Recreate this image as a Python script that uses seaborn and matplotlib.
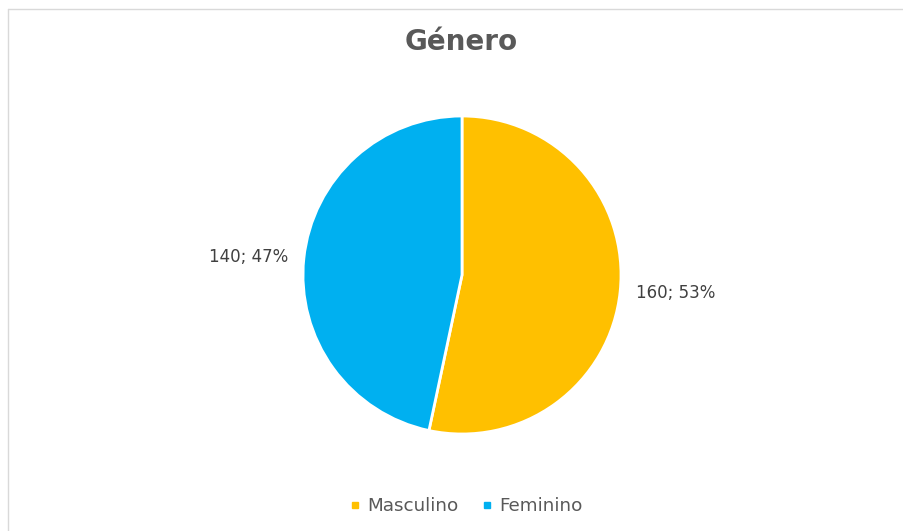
import matplotlib
matplotlib.use("Agg")
import matplotlib.pyplot as plt
import seaborn as sns
from matplotlib.lines import Line2D

# Chart data
categories = ["Masculino", "Feminino"]
counts = [160, 140]
colors = ["#FFC000", "#00B0F0"]

sns.set_theme(style="white")
plt.rcParams["font.family"] = ["DejaVu Sans"]

fig = plt.figure(figsize=(9.04, 5.31), dpi=100)
fig.patch.set_facecolor("white")

# pie area: radius about 159 px, centre at (462, 275)
ax = fig.add_axes([303 / 904, (531 - 434) / 531, 318 / 904, 318 / 531])

total = sum(counts)
labels = [f"{c}; {round(c / total * 100)}%" for c in counts]

wedges, texts = ax.pie(
    counts,
    colors=sns.color_palette(colors),
    labels=labels,
    startangle=90,
    counterclock=False,
    labeldistance=1.1,
    wedgeprops=dict(edgecolor="white", linewidth=2),
    textprops=dict(fontsize=12, color="#404040"),
)
for t in texts:
    t.set_clip_on(False)
ax.set_xlim(-1, 1)
ax.set_ylim(-1, 1)
ax.set_aspect("equal")
ax.axis("off")

fig.text(0.510, 0.921, "Género", ha="center", va="center",
         fontsize=20, fontweight="bold", color="#595959")

handles = [Line2D([0], [0], marker="s", linestyle="", markersize=5,
                  markerfacecolor=c, markeredgecolor=c) for c in colors]
fig.legend(handles, categories, loc="center", bbox_to_anchor=(0.5155, 1 - 506 / 531),
           ncol=2, frameon=False, fontsize=13.2, handlelength=0.6, handletextpad=0.35,
           columnspacing=1.28, labelcolor="#595959")

# chart border (top and left visible)
fig.add_artist(Line2D([8 / 904, 1], [1 - 9 / 531, 1 - 9 / 531],
                      color="#d9d9d9", linewidth=1, transform=fig.transFigure))
fig.add_artist(Line2D([8 / 904, 8 / 904], [0, 1 - 9 / 531],
                      color="#d9d9d9", linewidth=1, transform=fig.transFigure))

fig.savefig("out.png", dpi=100)
